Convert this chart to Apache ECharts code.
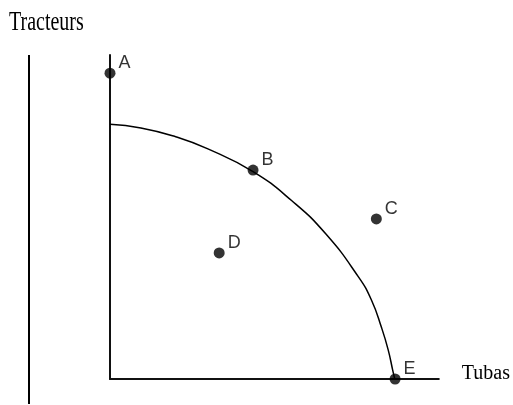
<!DOCTYPE html>
<html>
<head>
<meta charset="utf-8">
<script src="https://cdn.jsdelivr.net/npm/echarts@6/dist/echarts.min.js"></script>
<style>
  html, body { margin: 0; padding: 0; background: #fff; }
  #chart { width: 513px; height: 405px; }
</style>
</head>
<body>
<div id="chart"></div>
<script>
// frontier (curve), in axis units 0..100
var curveX = [0, 9.4, 19.6, 29.6, 43.5, 55.3, 65.6, 75.5, 79.5, 82.6, 84.6, 86.0, 86.6];
var curveY = [78.6, 77.5, 74.9, 71.1, 64.0, 55.0, 44.8, 31.6, 24.4, 15.8, 9.0, 2.6, 0];

// labelled points
var pointNames = ["A", "B", "C", "D", "E"];
var pointX = [0, 43.5, 81, 33.2, 86.7];
var pointY = [94.4, 64.5, 49.4, 38.9, 0];

var xName = "Tubas";
var yName = "Tracteurs";

var curveData = [];
for (var i = 0; i < curveX.length; i++) {
  curveData.push([curveX[i], curveY[i]]);
}
var pointData = [];
for (var j = 0; j < pointNames.length; j++) {
  pointData.push({ name: pointNames[j], value: [pointX[j], pointY[j]] });
}

var chart = echarts.init(document.getElementById("chart"));
chart.setOption({
  animation: false,
  grid: { left: 110, right: 72, top: 55, bottom: 26 },
  xAxis: {
    type: "value",
    min: 0,
    max: 100,
    name: xName,
    nameLocation: "end",
    nameGap: 23,
    nameTextStyle: {
      fontFamily: "Liberation Serif",
      fontSize: 20,
      color: "#000",
      verticalAlign: "bottom",
      padding: [0, 0, -5, 0]
    },
    axisLine: { show: true, lineStyle: { color: "#111", width: 2 } },
    axisTick: { show: false },
    axisLabel: { show: false },
    splitLine: { show: false }
  },
  yAxis: {
    type: "value",
    min: 0,
    max: 100,
    axisLine: { show: true, lineStyle: { color: "#111", width: 2 } },
    axisTick: { show: false },
    axisLabel: { show: false },
    splitLine: { show: false }
  },
  graphic: [
    {
      type: "line",
      shape: { x1: 29, y1: 55, x2: 29, y2: 404 },
      style: { stroke: "#000", lineWidth: 2 }
    },
    {
      type: "text",
      left: 9,
      top: 9,
      scaleX: 0.74,
      style: {
        text: yName,
        fontFamily: "Liberation Serif",
        fontSize: 27,
        fill: "#000"
      }
    }
  ],
  series: [
    {
      type: "line",
      data: curveData,
      smooth: 0.5,
      showSymbol: false,
      lineStyle: { color: "#000", width: 1.5 }
    },
    {
      type: "scatter",
      data: pointData,
      clip: false,
      symbolSize: 11,
      itemStyle: { color: "#000" },
      label: {
        show: true,
        position: "right",
        distance: 3,
        offset: [0, -10],
        formatter: "{b}",
        fontFamily: "Liberation Sans",
        fontSize: 18,
        color: "#000"
      }
    }
  ]
});
</script>
</body>
</html>
